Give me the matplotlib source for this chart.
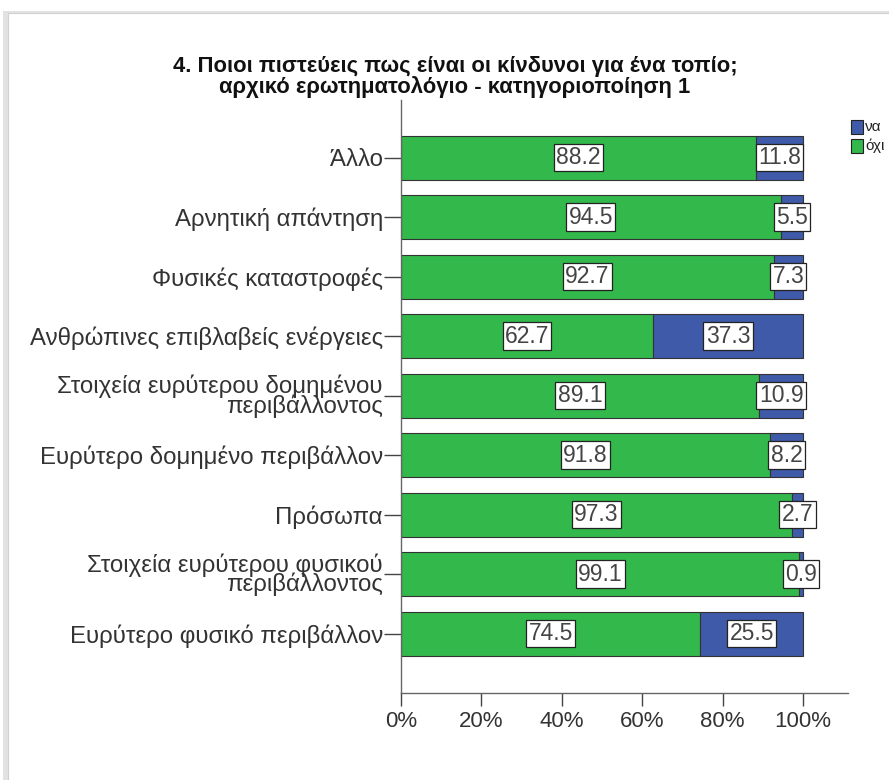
import matplotlib
matplotlib.use("Agg")
import matplotlib.pyplot as plt
from matplotlib.patches import Rectangle

plt.rcParams['font.family'] = ['Liberation Sans', 'DejaVu Sans']

categories = [
    "Άλλο",
    "Αρνητική απάντηση",
    "Φυσικές καταστροφές",
    "Ανθρώπινες επιβλαβείς ενέργειες",
    "Στοιχεία ευρύτερου δομημένου\nπεριβάλλοντος",
    "Ευρύτερο δομημένο περιβάλλον",
    "Πρόσωπα",
    "Στοιχεία ευρύτερου φυσικού\nπεριβάλλοντος",
    "Ευρύτερο φυσικό περιβάλλον",
]
ochi = [88.2, 94.5, 92.7, 62.7, 89.1, 91.8, 97.3, 99.1, 74.5]
nai = [11.8, 5.5, 7.3, 37.3, 10.9, 8.2, 2.7, 0.9, 25.5]
xticks = [0, 20, 40, 60, 80, 100]
xticklabels = ["0%", "20%", "40%", "60%", "80%", "100%"]
legend_labels = ["να", "όχι"]
title = "4. Ποιοι πιστεύεις πως είναι οι κίνδυνοι για ένα τοπίο;\nαρχικό ερωτηματολόγιο - κατηγοριοποίηση 1"

GREEN = "#33b84c"
BLUE = "#3f5aa8"
EDGE = "#333333"
AXC = "#666666"

fig = plt.figure(figsize=(8.89, 7.8), dpi=100)

# frame with shadow
fig.patches.append(Rectangle((3/889, -0.1), 1.2, 1.1 - 11/780, transform=fig.transFigure,
                             facecolor="#e2e2e2", edgecolor="none", zorder=-3))
fig.patches.append(Rectangle((8/889, -0.1), 1.2, 1.1 - 13/780, transform=fig.transFigure,
                             facecolor="white", edgecolor="#d0d0d0", linewidth=0.8, zorder=-2))

ax = fig.add_axes([401/889, 87/780, 447/889, 593/780])
ys = list(range(len(categories)))
h = 0.74
ax.barh(ys, ochi, height=h, color=GREEN, edgecolor=EDGE, linewidth=0.8, label=legend_labels[1])
ax.barh(ys, nai, left=ochi, height=h, color=BLUE, edgecolor=EDGE, linewidth=0.8, label=legend_labels[0])

bbox = dict(boxstyle="square,pad=0.1", facecolor="white", edgecolor="#222222", linewidth=0.9)
for y, g, b in zip(ys, ochi, nai):
    ax.text(g / 2, y, f"{g:.1f}", ha="center", va="center", fontsize=16.5, color="#444444", bbox=bbox)
    ax.text(g + b / 2, y, f"{b:.1f}", ha="center", va="center", fontsize=16.5, color="#444444", bbox=bbox)

ax.set_xlim(0, 111.2)
ax.set_ylim(9.0, -0.97)
ax.set_yticks(ys)
ax.set_yticklabels(categories, fontsize=17.3, color="#333333", ha="right",
                   multialignment="right", linespacing=0.78)
ax.set_xticks(xticks)
ax.set_xticklabels(xticklabels, fontsize=16, color="#333333")
for s in ["top", "right"]:
    ax.spines[s].set_visible(False)
for s in ["left", "bottom"]:
    ax.spines[s].set_color(AXC)
    ax.spines[s].set_linewidth(1.0)
ax.tick_params(axis="y", length=12, width=1.0, color="#444444", pad=1)
ax.tick_params(axis="x", length=9, width=1.0, color="#444444", pad=4)

fig.text(455/889, 1 - 77/780, title, ha="center", va="center", fontsize=15.8,
         fontweight="bold", color="#111111", linespacing=0.9)

# legend (cut at right edge like the reference)
for i, (lab, col) in enumerate(zip(legend_labels, [BLUE, GREEN])):
    yc = 1 - (127 + 19 * i) / 780
    fig.patches.append(Rectangle((851/889, yc - 7/780), 12/889, 14/780, transform=fig.transFigure,
                                 facecolor=col, edgecolor="#222222", linewidth=0.8))
    fig.text(865/889, yc, lab, ha="left", va="center", fontsize=11, color="#222222")

fig.savefig("out.png", dpi=100)
